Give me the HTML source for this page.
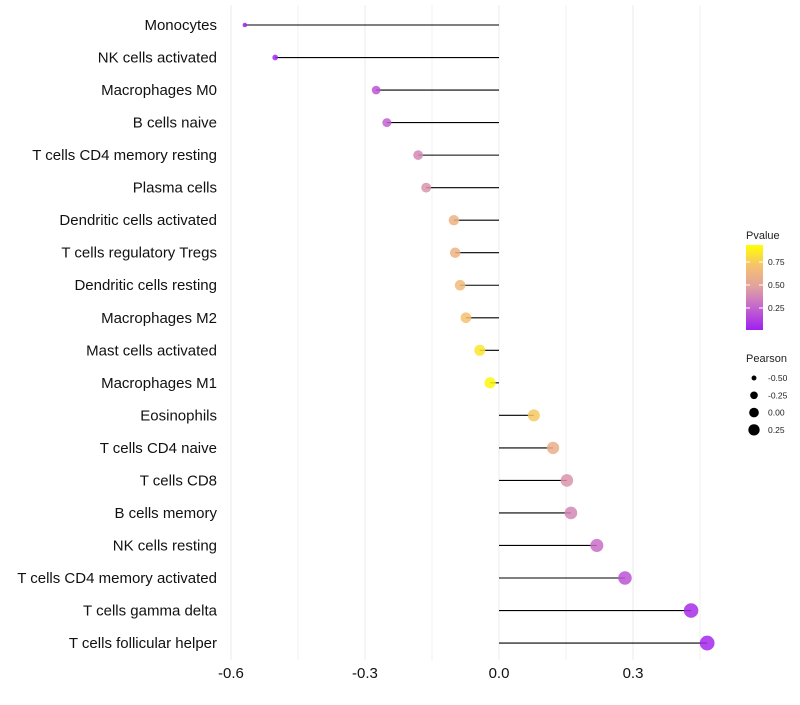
<!DOCTYPE html>
<html><head><meta charset="utf-8"><style>
body{margin:0;background:#fff;font-family:"Liberation Sans",sans-serif}
</style></head><body>
<svg id="c" width="800" height="700" xmlns="http://www.w3.org/2000/svg">
<defs><linearGradient id="pg" x1="0" y1="1" x2="0" y2="0">
<stop offset="0" stop-color="#a020f0"/><stop offset="0.3" stop-color="#c86ec8"/><stop offset="0.5" stop-color="#e0a0a0"/><stop offset="0.75" stop-color="#f5c070"/><stop offset="1" stop-color="#ffff00"/></linearGradient></defs>
</svg>
<script>
const cells=["Monocytes","NK cells activated","Macrophages M0","B cells naive","T cells CD4 memory resting","Plasma cells","Dendritic cells activated","T cells regulatory  Tregs ","Dendritic cells resting","Macrophages M2","Mast cells activated","Macrophages M1","Eosinophils","T cells CD4 naive","T cells CD8","B cells memory","NK cells resting","T cells CD4 memory activated","T cells gamma delta","T cells follicular helper"];
const pearson=[-0.569,-0.501,-0.275,-0.251,-0.181,-0.163,-0.101,-0.098,-0.087,-0.074,-0.043,-0.020,0.078,0.121,0.152,0.161,0.219,0.282,0.430,0.466];
const pvalue=[0.0,0.02,0.2,0.25,0.4,0.45,0.65,0.65,0.7,0.75,0.9,0.97,0.78,0.62,0.45,0.4,0.3,0.2,0.05,0.03];
const xTicks=[-0.6,-0.3,0.0,0.3];
const xMinor=[-0.45,-0.15,0.15,0.45];
const pTicks=[0.25,0.5,0.75];
const sizeTicks=[-0.5,-0.25,0,0.25];
const NS="http://www.w3.org/2000/svg",svg=document.getElementById('c');
function el(t,a,p){const e=document.createElementNS(NS,t);for(const k in a)e.setAttribute(k,a[k]);(p||svg).appendChild(e);return e;}
const xs=v=>499+v*446.7, ys=i=>25+i*32.53, rs=v=>Math.sqrt(3.5+48*(v+0.6));
const stops=[[0,[160,32,240]],[0.3,[200,110,200]],[0.5,[224,160,160]],[0.75,[245,192,112]],[1,[255,255,0]]];
function col(p){for(let k=1;k<stops.length;k++){if(p<=stops[k][0]){const [p0,a]=stops[k-1],[p1,b]=stops[k];const t=(p-p0)/(p1-p0);return `rgb(${a.map((x,i)=>Math.round(x+(b[i]-x)*t))})`;}}return 'rgb(255,255,0)';}
xMinor.forEach(v=>{const l=el('line',{x1:xs(v),x2:xs(v),y1:5,y2:660,stroke:'#f0f0f0','stroke-width':1});

});
xTicks.forEach(v=>{const l=el('line',{x1:xs(v),x2:xs(v),y1:5,y2:660,stroke:'#ebebeb','stroke-width':1});


const t=el('text',{x:xs(v),y:678,'text-anchor':'middle','font-size':15,fill:'#111'});t.textContent=v.toFixed(1);

});
cells.forEach((c,i)=>{const y=ys(i);
const t=el('text',{x:217,y:y+5,'text-anchor':'end','font-size':15,fill:'#111'});t.textContent=c;


const l=el('line',{x1:xs(0),x2:xs(pearson[i]),y1:y,y2:y,stroke:'#000','stroke-width':1.1});


const d=el('circle',{cx:xs(pearson[i]),cy:y,r:rs(pearson[i]),fill:col(pvalue[i]),'fill-opacity':0.85});

});
const g=el('g',{});
el('text',{x:746,y:239,'font-size':11,fill:'#222'},g).textContent='Pvalue';
el('rect',{x:746,y:245,width:17,height:85,fill:'url(#pg)'},g);
const pY=p=>330-(p-0.01)/0.925*85;
pTicks.forEach(p=>{el('line',{x1:746,x2:750,y1:pY(p),y2:pY(p),stroke:'#fff'},g);el('line',{x1:759,x2:763,y1:pY(p),y2:pY(p),stroke:'#fff'},g);
el('text',{x:768,y:pY(p)+3,'font-size':8.5,fill:'#222'},g).textContent=p.toFixed(2);});
const g2=el('g',{});
el('text',{x:746,y:362,'font-size':11,fill:'#222'},g2).textContent='Pearson';
sizeTicks.forEach((v,i)=>{const y=378+i*17.3;el('circle',{cx:754,cy:y,r:rs(v)*0.85,fill:'#000'},g2);
el('text',{x:768,y:y+3,'font-size':8.5,fill:'#222'},g2).textContent=v.toFixed(2);});
</script>
</body></html>
